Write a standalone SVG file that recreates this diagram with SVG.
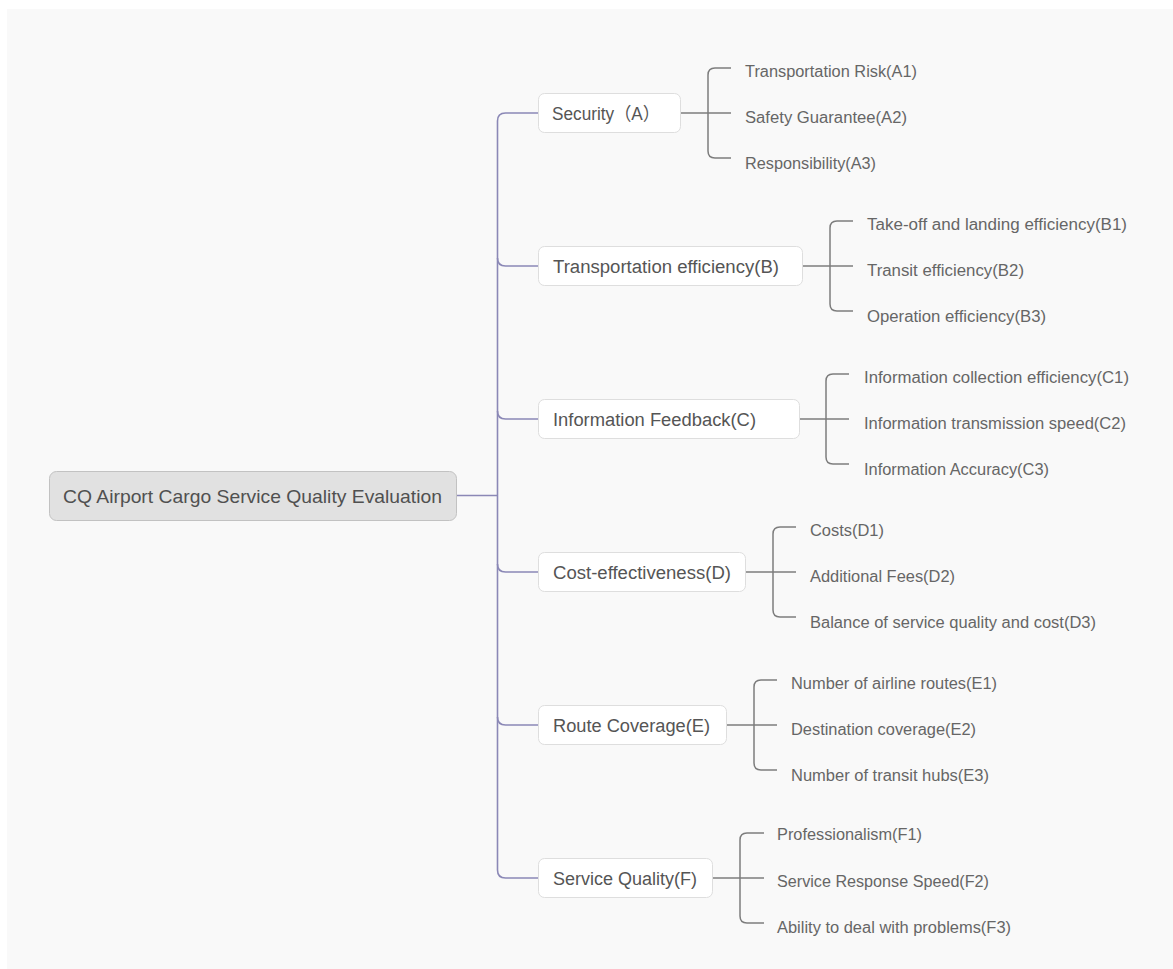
<svg xmlns="http://www.w3.org/2000/svg" width="1173" height="969" viewBox="0 0 1173 969">
<style>
.bg{fill:#f9f9f9}
.root{fill:#e1e1e1;stroke:#c2c2c2;stroke-width:1}
.main{fill:#ffffff;stroke:#dedede;stroke-width:1}
.trunk{fill:none;stroke:#8b88b6;stroke-width:1.6}
.sub{fill:none;stroke:#7d7d7d;stroke-width:1.5}
text{font-family:"Liberation Sans","Noto Sans CJK SC",Arial,sans-serif}
.rt{font-size:19px;fill:#505050}
.mt{font-size:18px;fill:#555555}
.ct{font-size:16px;fill:#666666}
</style>
<rect x="0" y="0" width="1173" height="969" fill="#ffffff"/>
<rect class="bg" x="7" y="9" width="1166" height="960"/>
<g id="connectors">
<path class="trunk" d="M457,495.5 H497.5"/>
<path class="trunk" d="M538,113 H505.5 Q497.5,113 497.5,121 V870 Q497.5,878 505.5,878 H538"/>
<path class="trunk" d="M497.5,258 Q497.5,266 505.5,266 H538"/>
<path class="trunk" d="M497.5,411 Q497.5,419 505.5,419 H538"/>
<path class="trunk" d="M497.5,564 Q497.5,572 505.5,572 H538"/>
<path class="trunk" d="M497.5,717 Q497.5,725 505.5,725 H538"/>
<path class="sub" d="M681,113 H731 M731,68 H715 Q708,68 708,75 V151 Q708,158 715,158 H731"/>
<path class="sub" d="M803,266 H853 M853,221 H837 Q830,221 830,228 V304 Q830,311 837,311 H853"/>
<path class="sub" d="M800,419 H849 M849,374 H833 Q826,374 826,381 V457 Q826,464 833,464 H849"/>
<path class="sub" d="M746,572 H796 M796,527 H780 Q773,527 773,534 V610 Q773,617 780,617 H796"/>
<path class="sub" d="M727,725 H777 M777,680 H761 Q754,680 754,687 V763 Q754,770 761,770 H777"/>
<path class="sub" d="M713,878 H764 M764,833 H747 Q740,833 740,840 V916 Q740,923 747,923 H764"/>
</g>
<g id="root">
<rect class="root" x="49.5" y="471.5" width="407" height="49" rx="7"/>
<text class="rt" x="63" y="503" textLength="379" lengthAdjust="spacingAndGlyphs">CQ Airport Cargo Service Quality Evaluation</text>
</g>
<g id="nodeA">
<rect class="main" x="538.5" y="93.5" width="142" height="39" rx="6"/>
<text class="mt" x="552" y="120" textLength="108" lengthAdjust="spacingAndGlyphs">Security（A）</text>
</g>
<g id="nodeA1"><text class="ct" x="745" y="77" textLength="172" lengthAdjust="spacingAndGlyphs">Transportation Risk(A1)</text></g>
<g id="nodeA2"><text class="ct" x="745" y="123" textLength="162" lengthAdjust="spacingAndGlyphs">Safety Guarantee(A2)</text></g>
<g id="nodeA3"><text class="ct" x="745" y="169" textLength="131" lengthAdjust="spacingAndGlyphs">Responsibility(A3)</text></g>
<g id="nodeB">
<rect class="main" x="538.5" y="246.5" width="264" height="39" rx="6"/>
<text class="mt" x="553" y="273" textLength="226" lengthAdjust="spacingAndGlyphs">Transportation efficiency(B)</text>
</g>
<g id="nodeB1"><text class="ct" x="867" y="230" textLength="260" lengthAdjust="spacingAndGlyphs">Take-off and landing efficiency(B1)</text></g>
<g id="nodeB2"><text class="ct" x="867" y="276" textLength="157" lengthAdjust="spacingAndGlyphs">Transit efficiency(B2)</text></g>
<g id="nodeB3"><text class="ct" x="867" y="322" textLength="179" lengthAdjust="spacingAndGlyphs">Operation efficiency(B3)</text></g>
<g id="nodeC">
<rect class="main" x="538.5" y="399.5" width="261" height="39" rx="6"/>
<text class="mt" x="553" y="426" textLength="203" lengthAdjust="spacingAndGlyphs">Information Feedback(C)</text>
</g>
<g id="nodeC1"><text class="ct" x="864" y="383" textLength="265" lengthAdjust="spacingAndGlyphs">Information collection efficiency(C1)</text></g>
<g id="nodeC2"><text class="ct" x="864" y="429" textLength="262" lengthAdjust="spacingAndGlyphs">Information transmission speed(C2)</text></g>
<g id="nodeC3"><text class="ct" x="864" y="475" textLength="185" lengthAdjust="spacingAndGlyphs">Information Accuracy(C3)</text></g>
<g id="nodeD">
<rect class="main" x="538.5" y="552.5" width="207" height="39" rx="6"/>
<text class="mt" x="553" y="579" textLength="178" lengthAdjust="spacingAndGlyphs">Cost-effectiveness(D)</text>
</g>
<g id="nodeD1"><text class="ct" x="810" y="536" textLength="74" lengthAdjust="spacingAndGlyphs">Costs(D1)</text></g>
<g id="nodeD2"><text class="ct" x="810" y="582" textLength="145" lengthAdjust="spacingAndGlyphs">Additional Fees(D2)</text></g>
<g id="nodeD3"><text class="ct" x="810" y="628" textLength="286" lengthAdjust="spacingAndGlyphs">Balance of service quality and cost(D3)</text></g>
<g id="nodeE">
<rect class="main" x="538.5" y="705.5" width="188" height="39" rx="6"/>
<text class="mt" x="553" y="732" textLength="157" lengthAdjust="spacingAndGlyphs">Route Coverage(E)</text>
</g>
<g id="nodeE1"><text class="ct" x="791" y="689" textLength="206" lengthAdjust="spacingAndGlyphs">Number of airline routes(E1)</text></g>
<g id="nodeE2"><text class="ct" x="791" y="735" textLength="185" lengthAdjust="spacingAndGlyphs">Destination coverage(E2)</text></g>
<g id="nodeE3"><text class="ct" x="791" y="781" textLength="198" lengthAdjust="spacingAndGlyphs">Number of transit hubs(E3)</text></g>
<g id="nodeF">
<rect class="main" x="538.5" y="858.5" width="174" height="39" rx="6"/>
<text class="mt" x="553" y="885" textLength="144" lengthAdjust="spacingAndGlyphs">Service Quality(F)</text>
</g>
<g id="nodeF1"><text class="ct" x="777" y="840" textLength="145" lengthAdjust="spacingAndGlyphs">Professionalism(F1)</text></g>
<g id="nodeF2"><text class="ct" x="777" y="887" textLength="212" lengthAdjust="spacingAndGlyphs">Service Response Speed(F2)</text></g>
<g id="nodeF3"><text class="ct" x="777" y="933" textLength="234" lengthAdjust="spacingAndGlyphs">Ability to deal with problems(F3)</text></g>
</svg>
